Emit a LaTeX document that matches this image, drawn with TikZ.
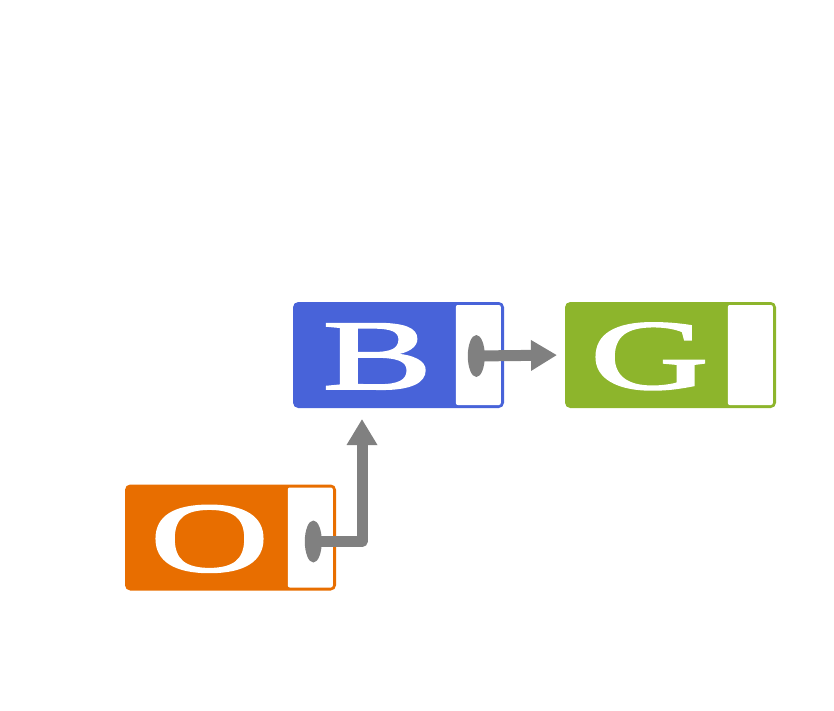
\documentclass[tikz,border=0pt]{standalone}
\usepackage{fontspec}
\newfontfamily\letterfont{Liberation Serif}[FakeBold=1.5]
\usepackage{graphicx}
\usetikzlibrary{arrows.meta,positioning,shapes.geometric}
\definecolor{Bc}{RGB}{72,99,217}
\definecolor{Gc}{RGB}{141,181,44}
\definecolor{Oc}{RGB}{232,110,0}
\definecolor{Pc}{RGB}{128,128,128}
\newcommand{\wideletter}[1]{\scalebox{1.65}[1]{#1}}
\tikzset{
  cell/.style={rectangle,rounded corners=4pt,line width=3pt,
               minimum width=208pt,minimum height=103pt,inner sep=0pt},
  slot/.style={rectangle,rounded corners=2pt,fill=white,
               minimum width=45pt,minimum height=100pt,inner sep=0pt,anchor=east},
  letter/.style={text=white,inner sep=0pt,anchor=base,
                 font=\letterfont\fontsize{100}{100}\selectfont},
  dot/.style={ellipse,fill=Pc,minimum width=17pt,minimum height=42pt,inner sep=0pt},
  ptr/.style={-{Triangle[length=26pt,width=29pt]},line width=11pt,Pc,line join=round},
}

\begin{document}
\begin{tikzpicture}[x=1pt,y=-1pt]
  \useasboundingbox (0,0) rectangle (834,711);
  % cells
  \node[cell,draw=Bc,fill=Bc] (B) at (398.5,355) {};
  \node[cell,draw=Gc,fill=Gc,right=61pt of B] (G) {};
  \node[cell,draw=Oc,fill=Oc] (O) at (230.5,537.5) {};
  \foreach \c in {B,G,O}{
    \node[slot] (\c slot) at ([xshift=-3pt]\c.east) {};
    \node[letter] (\c txt) at ([xshift=84.5pt,yshift=-34pt]\c.west) {\wideletter{\c}};
  }
  % pointers
  \node[dot] (Bdot) at ([xshift=-2pt,yshift=-1pt]Bslot.center) {};
  \node[dot] (Odot) at ([xshift=3pt,yshift=-4pt]Oslot.center) {};
  \coordinate (Bin) at ([xshift=-36.5pt]B.south);
  \draw[ptr,shorten >=8pt] (Bdot.center) -- (G.west);
  \draw[ptr,shorten >=11pt] (Odot.center) -| (Bin);
\end{tikzpicture}
\end{document}
